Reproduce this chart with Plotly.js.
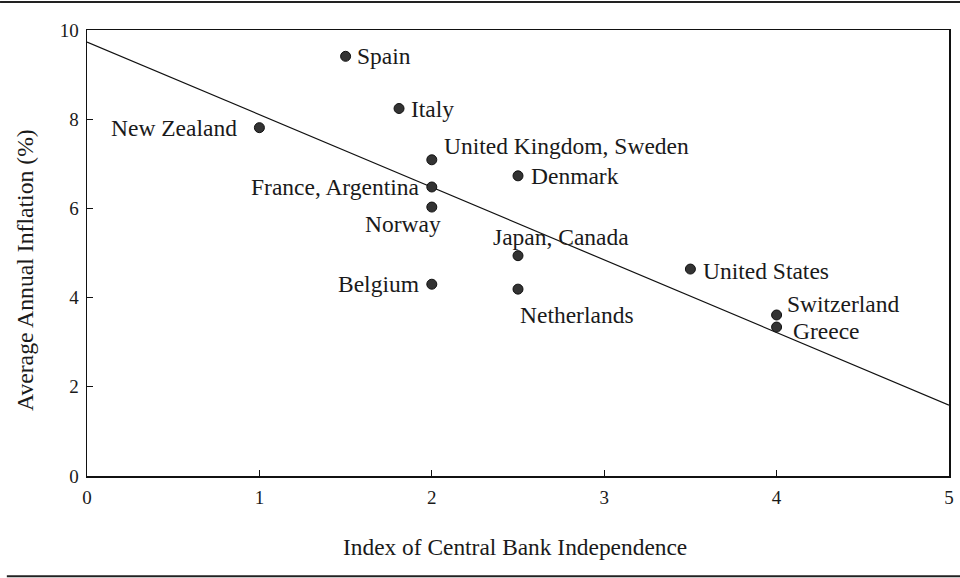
<!DOCTYPE html>
<html><head><meta charset="utf-8">
<script src="https://cdn.plot.ly/plotly-3.0.1.min.js"></script>
<style>html,body{margin:0;padding:0;background:#fff}#chart{width:960px;height:578px}</style>
</head><body><div id="chart"></div>
<script>
// Data
const countries = ["Spain","Italy","New Zealand","United Kingdom, Sweden","France, Argentina","Norway","Denmark","Japan, Canada","Belgium","Netherlands","United States","Switzerland","Greece"];
const independence = [1.5, 1.81, 1.0, 2.0, 2.0, 2.0, 2.5, 2.5, 2.0, 2.5, 3.5, 4.0, 4.0];
const inflation = [9.41, 8.24, 7.81, 7.09, 6.48, 6.03, 6.73, 4.94, 4.30, 4.19, 4.64, 3.61, 3.34];
const fitX = [0, 5];
const fitY = [9.73, 1.59];
const xTicks = [0,1,2,3,4,5];
const yTicks = [0,2,4,6,8,10];
const xTitle = "Index of Central Bank Independence";
const yTitle = "Average Annual Inflation (%)";

// label placement (style)
const labelStyle = {
  "Spain": {xanchor:"left", yanchor:"middle", xshift:9, yshift:0},
  "Italy": {xanchor:"left", yanchor:"middle", xshift:10, yshift:0},
  "New Zealand": {xanchor:"right", yanchor:"middle", xshift:-20, yshift:0},
  "United Kingdom, Sweden": {xanchor:"left", yanchor:"middle", xshift:10, yshift:14},
  "France, Argentina": {xanchor:"right", yanchor:"middle", xshift:-10, yshift:0},
  "Norway": {xanchor:"center", yanchor:"middle", xshift:-29, yshift:-17},
  "Denmark": {xanchor:"left", yanchor:"middle", xshift:11, yshift:0},
  "Japan, Canada": {xanchor:"center", yanchor:"middle", xshift:43, yshift:19},
  "Belgium": {xanchor:"right", yanchor:"middle", xshift:-11, yshift:0},
  "Netherlands": {xanchor:"center", yanchor:"middle", xshift:59, yshift:-26},
  "United States": {xanchor:"left", yanchor:"middle", xshift:11, yshift:-2},
  "Switzerland": {xanchor:"left", yanchor:"middle", xshift:8, yshift:11},
  "Greece": {xanchor:"left", yanchor:"middle", xshift:14, yshift:-4}
};

const FONT = "Liberation Serif, DejaVu Serif, serif";
const traces = [
  {x: fitX, y: fitY, mode: "lines", line: {color: "#111", width: 1.2}, hoverinfo: "skip"},
  {x: independence, y: inflation, mode: "markers", marker: {color: "#333", size: 10, line: {color: "#111", width: 1}}, text: countries}
];

const annotations = countries.map((c, i) => Object.assign({
  x: independence[i], y: inflation[i], xref: "x", yref: "y", text: c, showarrow: false,
  font: {family: FONT, size: 23.5, color: "#1a1a1a"}
}, labelStyle[c]));

// axis titles placed as annotations for exact positioning
annotations.push({
  xref: "paper", yref: "paper", x: 0.4965, y: -0.159, xanchor: "center", yanchor: "middle",
  text: xTitle, showarrow: false, font: {family: FONT, size: 23.4, color: "#1a1a1a"}
});
annotations.push({
  xref: "paper", yref: "paper", x: -0.0719, y: 0.462, xanchor: "center", yanchor: "middle",
  textangle: -90, text: yTitle, showarrow: false, font: {family: FONT, size: 23.7, color: "#1a1a1a"}
});

const layout = {
  width: 960, height: 578,
  margin: {l: 87, r: 11, t: 30, b: 102},
  paper_bgcolor: "#fff", plot_bgcolor: "#fff",
  showlegend: false,
  font: {family: FONT, color: "#1a1a1a", size: 19},
  xaxis: {
    range: [0, 5], tickvals: xTicks, ticktext: xTicks.map(String),
    showline: true, mirror: true, linecolor: "#111", linewidth: 1.5,
    ticks: "inside", ticklen: 6, tickcolor: "#111", tickwidth: 1,
    showgrid: false, zeroline: false, ticklabelstandoff: 4,
    tickfont: {family: FONT, size: 19}
  },
  yaxis: {
    range: [0, 10], tickvals: yTicks, ticktext: yTicks.map(String),
    showline: true, mirror: true, linecolor: "#111", linewidth: 1.5,
    ticks: "inside", ticklen: 6, tickcolor: "#111", tickwidth: 1,
    showgrid: false, zeroline: false, ticklabelstandoff: 3,
    tickfont: {family: FONT, size: 19}
  },
  annotations: annotations,
  shapes: [
    {type: "line", xref: "paper", yref: "paper", x0: -0.1009, x1: 1.0128, y0: 1.063, y1: 1.063, line: {color: "#222", width: 2}},
    {type: "line", xref: "paper", yref: "paper", x0: -0.093, x1: 1.0128, y0: -0.2245, y1: -0.2245, line: {color: "#222", width: 2}}
  ]
};

Plotly.newPlot("chart", traces, layout, {displayModeBar: false, staticPlot: true});
</script>
</body></html>
